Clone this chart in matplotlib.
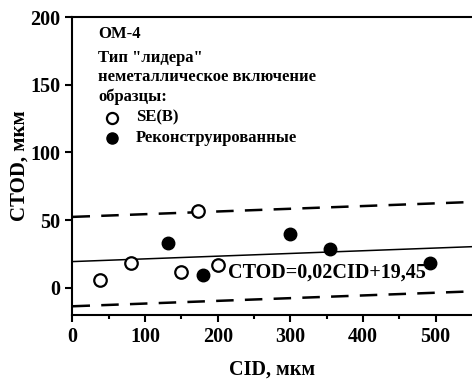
import numpy as np
import matplotlib.pyplot as plt

plt.rcParams['font.family'] = ['Liberation Serif', 'DejaVu Serif']
plt.rcParams['font.weight'] = 'bold'

# SE(B) specimens
cid_seb = [38, 81, 150, 173, 201]
ctod_seb = [6, 18.5, 11.5, 56.5, 17]
# reconstructed specimens
cid_rec = [131, 180, 300, 354, 492]
ctod_rec = [33, 9.5, 40, 29, 18.5]

# regression CTOD = a*CID + b and its band
a, b = 0.02, 19.45
band = 33

fig = plt.figure(figsize=(4.72, 3.81), dpi=100)
ax = fig.add_axes([0.1536, 0.1732, 0.846, 0.782])

xx = np.array([0, 550])
ax.plot(xx, a * xx + b, color='black', lw=1.1)
ax.plot(xx, a * xx + b + band, color='black', lw=1.8, dashes=(7, 4.5))
ax.plot(xx, a * xx + b - band, color='black', lw=1.8, dashes=(7, 4.5))

ax.plot(cid_seb, ctod_seb, 'o', ms=9, mfc='white', mec='black', mew=1.6, ls='none')
ax.plot(cid_rec, ctod_rec, 'o', ms=9, mfc='black', mec='black', ls='none')

ax.text(214, 11.5, 'CTOD=0,02CID+19,45', fontsize=14.5, va='center', ha='left')

# legend block
fs = 12
ax.text(0.064, 0.942, 'ОМ-4', transform=ax.transAxes, fontsize=fs, va='center')
ax.text(0.064, 0.862, 'Тип "лидера"', transform=ax.transAxes, fontsize=fs, va='center')
ax.text(0.064, 0.798, 'неметаллическое включение', transform=ax.transAxes, fontsize=fs, va='center')
ax.text(0.064, 0.734, 'образцы:', transform=ax.transAxes, fontsize=fs, va='center')
ax.plot([0.099], [0.662], 'o', transform=ax.transAxes, ms=8, mfc='white', mec='black', mew=1.6)
ax.text(0.158, 0.662, 'SE(B)', transform=ax.transAxes, fontsize=fs, va='center')
ax.plot([0.099], [0.595], 'o', transform=ax.transAxes, ms=8, mfc='black', mec='black')
ax.text(0.158, 0.595, 'Реконструированные', transform=ax.transAxes, fontsize=fs, va='center')

ax.set_xlim(0, 550)
ax.set_ylim(-20, 200)
ax.set_xticks([0, 100, 200, 300, 400, 500])
ax.set_xticks([50, 150, 250, 350, 450], minor=True)
ax.set_yticks([0, 50, 100, 150, 200])
ax.tick_params(axis='both', which='major', labelsize=14.5, width=1.5, length=5, direction='out')
ax.tick_params(axis='x', which='minor', width=1.5, length=3, direction='out')
ax.spines['right'].set_visible(False)
for s in ['left', 'bottom', 'top']:
    ax.spines[s].set_linewidth(1.5)

ax.set_xlabel('CID, мкм', fontsize=14.5, fontweight='bold', labelpad=9)
ax.set_ylabel('CTOD, мкм', fontsize=15, fontweight='bold', labelpad=1)

fig.savefig('out.png', dpi=100)
